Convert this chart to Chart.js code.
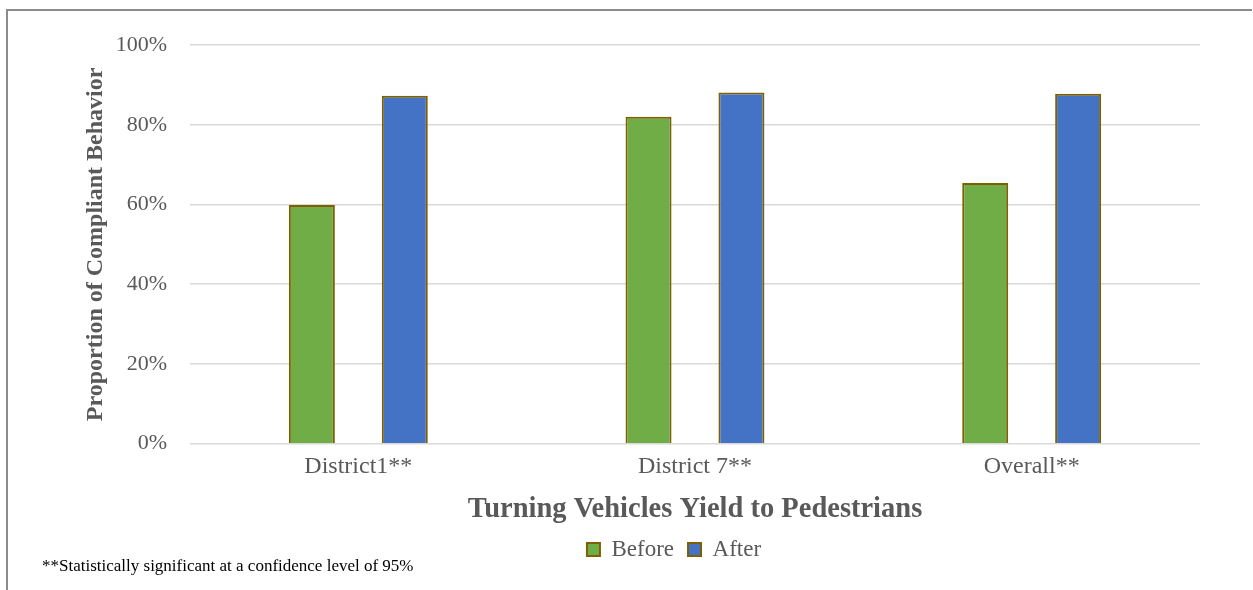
<!DOCTYPE html>
<html>
<head>
<meta charset="utf-8">
<script src="https://cdn.jsdelivr.net/npm/chart.js@4"></script>
<style>
    html, body {
        margin: 0;
        padding: 0;
        background: #ffffff;
    }
    #wrap {
        position: relative;
        width: 1253px;
        height: 590px;
    }
    /* Frame line along the top and left edge of the chart */
    #frame {
        position: absolute;
        left: 6px;
        top: 9px;
        width: 1246px;
        height: 581px;
        border-top: 2px solid #8c8c8c;
        border-left: 2px solid #8c8c8c;
        box-sizing: border-box;
        pointer-events: none;
    }
</style>
</head>
<body>
<div id="wrap">
    <canvas id="yieldChart" width="1253" height="590"></canvas>
    <div id="frame"></div>
</div>
<script>
// Categories and compliance shares (0..1)
var categories = ["District1**", "District 7**", "Overall**"];
var beforeValues = [0.599, 0.820, 0.654];
var afterValues = [0.873, 0.881, 0.878];
var yTicks = [0, 0.2, 0.4, 0.6, 0.8, 1.0];

var footnote = "**Statistically significant at a confidence level of 95%";

var serif = "'Liberation Serif', 'Times New Roman', serif";
var grey = "#595959";

/**
 * Draws the significance footnote in the lower left corner.
 */
var footnotePlugin = {
    id: "footnote",
    afterDraw: function (chart) {
        var ctx = chart.ctx;
        ctx.save();
        ctx.font = "17px " + serif;
        ctx.fillStyle = "#000000";
        ctx.textAlign = "left";
        ctx.textBaseline = "middle";
        ctx.fillText(footnote, 42, 567);
        ctx.restore();
    }
};

/**
 * Nudges the legend a little to the right of the canvas centre.
 */
var legendShiftPlugin = {
    id: "legendShift",
    afterLayout: function (chart) {
        var shift = 34;
        chart.legend.left += shift;
        chart.legend.right += shift;
    }
};

document.addEventListener("DOMContentLoaded", function () {
    var ctx = document.getElementById("yieldChart").getContext("2d");

    new Chart(ctx, {
        type: "bar",
        data: {
            labels: categories,
            datasets: [{
                label: "Before",
                data: beforeValues,
                backgroundColor: "#70AD47",
                borderColor: "#7F6000",
                borderWidth: 2
            }, {
                label: "After",
                data: afterValues,
                backgroundColor: "#4472C4",
                borderColor: "#7F6000",
                borderWidth: 2
            }]
        },
        options: {
            responsive: false,
            animation: false,
            devicePixelRatio: 1,
            categoryPercentage: 0.552,
            barPercentage: 0.495,
            layout: {
                padding: {left: 80, right: 53, top: 45, bottom: 19}
            },
            scales: {
                x: {
                    grid: {display: false, drawTicks: false},
                    border: {display: false},
                    ticks: {
                        color: grey,
                        padding: 9,
                        font: {family: serif, size: 24}
                    },
                    title: {
                        display: true,
                        text: "Turning Vehicles Yield to Pedestrians",
                        color: grey,
                        padding: {top: 5, bottom: 0},
                        font: {family: serif, size: 28.5, weight: "bold", lineHeight: 1}
                    }
                },
                y: {
                    min: 0,
                    max: 1,
                    afterBuildTicks: function (scale) {
                        scale.ticks = yTicks.map(function (v) {
                            return {value: v};
                        });
                    },
                    afterFit: function (scale) {
                        scale.width = 110;
                    },
                    grid: {
                        color: "#d9d9d9",
                        lineWidth: 1.5,
                        drawTicks: false
                    },
                    border: {display: false},
                    ticks: {
                        color: grey,
                        padding: 23,
                        font: {family: serif, size: 22},
                        callback: function (value) {
                            return Math.round(value * 100) + "%";
                        }
                    },
                    title: {
                        display: true,
                        text: "Proportion of Compliant Behavior",
                        color: grey,
                        padding: {top: 1, bottom: 0},
                        font: {family: serif, size: 24, weight: "bold"}
                    }
                }
            },
            plugins: {
                legend: {
                    position: "bottom",
                    labels: {
                        color: grey,
                        boxWidth: 13,
                        boxHeight: 13,
                        padding: 14,
                        font: {family: serif, size: 23}
                    }
                },
                tooltip: {enabled: false}
            }
        },
        plugins: [footnotePlugin, legendShiftPlugin]
    });
});
</script>
</body>
</html>
